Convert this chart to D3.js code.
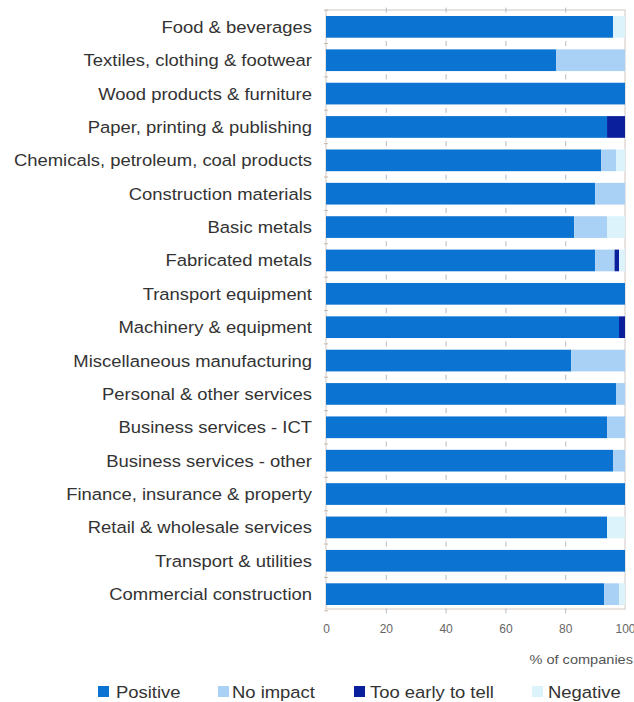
<!DOCTYPE html>
<html>
<head>
<meta charset="utf-8">
<script src="https://cdn.jsdelivr.net/npm/d3@7"></script>
<style>
  html, body { margin: 0; padding: 0; background: #fff; }
  svg { display: block; font-family: "Liberation Sans", Arial, sans-serif; }
</style>
</head>
<body>
<svg id="chart" width="634" height="702"></svg>
<script>
// Industry categories, top to bottom
const categories = [
  "Food & beverages",
  "Textiles, clothing & footwear",
  "Wood products & furniture",
  "Paper, printing & publishing",
  "Chemicals, petroleum, coal products",
  "Construction materials ",
  "Basic metals",
  "Fabricated metals",
  "Transport equipment",
  "Machinery & equipment",
  "Miscellaneous manufacturing",
  "Personal & other services",
  "Business services - ICT",
  "Business services - other",
  "Finance, insurance & property",
  "Retail & wholesale services",
  "Transport & utilities",
  "Commercial construction"
];

// Share of companies (%) in each response group
const positive   = [96, 77, 100, 94, 92, 90, 83, 90, 100, 98, 82, 97, 94, 96, 100, 94, 100, 93];
const noImpact   = [ 0, 23,   0,  0,  5, 10, 11, 6.5,  0,  0, 18,  3,  6,  4,   0,  0,   0,  5];
const tooEarly   = [ 0,  0,   0,  6,  0,  0,  0, 1.5,  0,  2,  0,  0,  0,  0,   0,  0,   0,  0];
const negative   = [ 4,  0,   0,  0,  3,  0,  6,  2,   0,  0,  0,  0,  0,  0,   0,  6,   0,  2];

const seriesNames = ["Positive", "No impact", "Too early to tell", "Negative"];
const seriesColors = ["#0b73d1", "#a9d0f5", "#0a1f9c", "#dcf3fb"];
const xTicks = [0, 20, 40, 60, 80, 100];
const xTitle = "% of companies";

const rows = categories.map((c, i) => ({
  category: c,
  "Positive": positive[i],
  "No impact": noImpact[i],
  "Too early to tell": tooEarly[i],
  "Negative": negative[i]
}));

const svg = d3.select("#chart");

const x = d3.scaleLinear().domain([0, 100]).range([326, 625]);
const y = d3.scaleBand().domain(categories).range([10, 611])
  .paddingInner(0.35).paddingOuter(0.18);
const color = d3.scaleOrdinal().domain(seriesNames).range(seriesColors);

// Slightly wide lettering used throughout the chart
const STRETCH = 1.085;

// Plot frame
svg.append("rect")
  .attr("x", x(0)).attr("y", 10)
  .attr("width", x(100) - x(0)).attr("height", 599)
  .attr("fill", "none").attr("stroke", "#cfc8c2").attr("stroke-width", 1);

// Faint grid marks between the bars
const halfGap = y.step() * y.paddingInner() / 2;
const boundaries = categories.map(c => y(c) - halfGap)
  .concat([y(categories[categories.length - 1]) + y.bandwidth() + halfGap]);
const grid = svg.append("g");
xTicks.slice(1, -1).forEach(t => {
  boundaries.forEach(b => {
    grid.append("line")
      .attr("x1", x(t) + 0.5).attr("x2", x(t) + 0.5)
      .attr("y1", b - 2.5).attr("y2", b + 2.5)
      .attr("stroke", "#b8b8c0").attr("stroke-width", 1);
  });
});
boundaries.forEach(b => {
  grid.append("line")
    .attr("x1", x(0) - 2).attr("x2", x(0) + 2)
    .attr("y1", b).attr("y2", b)
    .attr("stroke", "#c8b8a8").attr("stroke-width", 1);
});

// Stacked bars
const stack = d3.stack().keys(seriesNames)(rows);
svg.append("g").selectAll("g")
  .data(stack)
  .join("g")
  .attr("fill", d => color(d.key))
  .selectAll("rect")
  .data(d => d)
  .join("rect")
  .attr("x", d => x(d[0]))
  .attr("y", d => y(d.data.category))
  .attr("width", d => Math.max(0, x(d[1]) - x(d[0])))
  .attr("height", y.bandwidth());

// Category labels
svg.append("g").selectAll("text")
  .data(categories)
  .join("text")
  .attr("transform", d => `translate(312,${y(d) + y.bandwidth() / 2}) scale(${STRETCH},1)`)
  .attr("dy", "0.35em")
  .attr("text-anchor", "end")
  .attr("font-size", 17)
  .attr("fill", "#333")
  .text(d => d);

// Value axis
const xAxis = d3.axisBottom(x).tickValues(xTicks).tickSize(0).tickPadding(0);
const axisG = svg.append("g")
  .attr("transform", "translate(0,624)")
  .call(xAxis);
axisG.select(".domain").remove();
axisG.selectAll("text")
  .attr("font-size", 12)
  .attr("fill", "#666")
  .attr("font-family", "\"Liberation Sans\", Arial, sans-serif");

svg.append("text")
  .attr("transform", `translate(633,659) scale(1.12,1)`)
  .attr("dy", "0.35em")
  .attr("text-anchor", "end")
  .attr("font-size", 13)
  .attr("fill", "#555")
  .text(xTitle);

// Legend
const legendBox = [98, 218, 354, 532];
const legendText = [116, 232, 370, 548];
const legend = svg.append("g");
seriesNames.forEach((name, i) => {
  legend.append("rect")
    .attr("x", legendBox[i]).attr("y", 686)
    .attr("width", 11).attr("height", 11)
    .attr("fill", color(name));
  legend.append("text")
    .attr("transform", `translate(${legendText[i]},692) scale(${STRETCH},1)`)
    .attr("dy", "0.36em")
    .attr("font-size", 17)
    .attr("fill", "#333")
    .text(name);
});
</script>
</body>
</html>
